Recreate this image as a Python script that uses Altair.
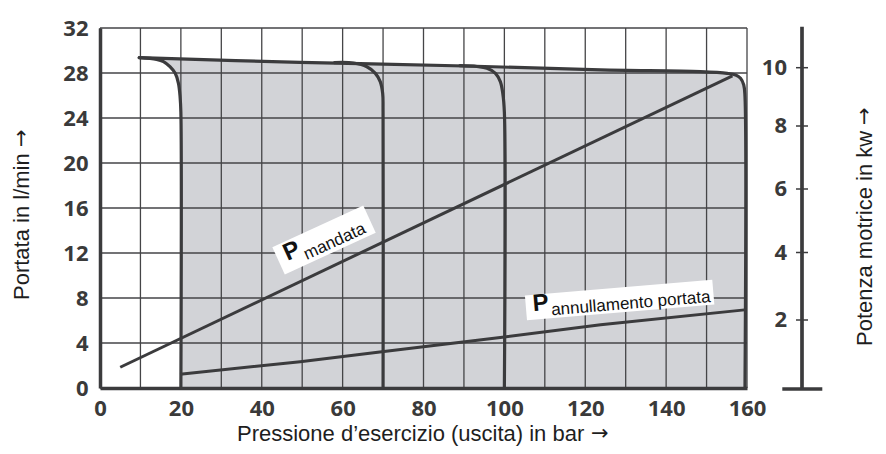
import altair as alt
import pandas as pd

# ---------------- data ----------------
# Flow curves: Portata (l/min) vs Pressione (bar)
c20_x = [9.7, 14.0, 15.7, 17.3, 18.6, 19.4, 19.8, 20.0, 20.0]
c20_y = [29.36, 29.21, 29.01, 28.56, 27.97, 27.08, 25.9, 24.5, 0.0]
c70_x = [58.0, 62.7, 66.0, 68.1, 69.3, 69.9, 70.0, 70.0]
c70_y = [28.93, 28.89, 28.56, 27.97, 27.23, 26.2, 24.5, 0.0]
c100_x = [89.0, 93.2, 95.7, 97.8, 99.0, 99.6, 100.0, 100.0]
c100_y = [28.65, 28.58, 28.42, 27.97, 27.23, 26.2, 24.5, 0.0]
cmax_x = [9.7, 49.5, 93.0, 123.8, 148.5, 155.1, 157.2, 158.4, 159.2, 159.5, 159.5]
cmax_y = [29.36, 28.95, 28.6, 28.27, 28.12, 27.97, 27.82, 27.53, 26.93, 25.9, 0.0]

# Power lines: Potenza motrice (kW) vs Pressione (bar)
pm_x = [5.0, 156.4]
pm_kw = [0.63, 9.72]
pa_x = [19.8, 49.5, 69.7, 99.5, 123.8, 159.4]
pa_kw = [0.43, 0.79, 1.08, 1.50, 1.86, 2.30]

# Axes / grid
x_grid = list(range(0, 161, 10))
y_grid = list(range(0, 33, 4))
kw_ticks = [2, 4, 6, 8, 10]
kw_axis_domain = [0, 2, 4, 6, 8, 10]

# Titles
x_title = "Pressione d’esercizio (uscita) in bar"
y_title = "Portata in l/min"
y2_title = "Potenza motrice in kw"
arrow = "→"

# Label anchors (bar, l/min)
lbl_mandata = {"x": 55.4, "y": 13.16}
lbl_annull = {"x": 128.5, "y": 7.82}

# ---------------- tables ----------------
rows = []
for name, xs_, ys_ in [("c20", c20_x, c20_y), ("c70", c70_x, c70_y),
                       ("c100", c100_x, c100_y), ("cmax", cmax_x, cmax_y)]:
    for i, (a, b) in enumerate(zip(xs_, ys_)):
        rows.append({"curve": name, "i": i, "x": a, "y": b})
curves = pd.DataFrame(rows)

poly_pts = list(zip(c20_x, c20_y))[1:][::-1] + [p for p in zip(cmax_x, cmax_y) if p[0] > 20]
poly = pd.DataFrame({"i": range(len(poly_pts)),
                     "x": [p[0] for p in poly_pts], "y": [p[1] for p in poly_pts]})

prow = []
for name, xs_, ks in [("mandata", pm_x, pm_kw), ("annull", pa_x, pa_kw)]:
    for i, (a, b) in enumerate(zip(xs_, ks)):
        prow.append({"line": name, "i": i, "x": a, "kw": b})
power = pd.DataFrame(prow)

W, H = 647, 360
LINE = "#3b3b3d"
GRID = "#454547"
FILL = "#d2d3d7"
LBL = "#3a3a3a"
TXT = "#1e1e1e"
TICKFONT = "Open Sans"
TITLEFONT = "Liberation Sans"
ARROWFONT = "DejaVu Sans"
TFS = 22

xs = alt.Scale(domain=[0, 160], nice=False, zero=False)
ys = alt.Scale(domain=[0, 32], nice=False, zero=False)
kws = alt.Scale(domain=kw_axis_domain, range=[361, 292, 224.5, 161, 98, 39.7], nice=False, zero=False)

x_axis = alt.Axis(values=x_grid, labelExpr="datum.value % 20 == 0 ? datum.label : ''",
                  grid=False, ticks=False, domainWidth=3.5, domainColor=LINE,
                  labelFont=TICKFONT, labelFontWeight="bold", labelFontSize=22, labelColor=LBL,
                  labelPadding=10, labelFlush=False, labelOverlap=False, title=None, zindex=1)
y_axis = alt.Axis(values=y_grid, grid=False, ticks=False, domainWidth=3.5, domainColor=LINE,
                  labelFont=TICKFONT, labelFontWeight="bold", labelFontSize=22, labelColor=LBL,
                  labelPadding=12, labelFlush=False, labelOverlap=False, labelBaseline="middle",
                  title=None, zindex=1)

fill = alt.Chart(poly).mark_line(fill=FILL, stroke=None, strokeWidth=0, interpolate="catmull-rom").encode(
    x=alt.X("x:Q", scale=xs, axis=x_axis),
    y=alt.Y("y:Q", scale=ys, axis=y_axis),
    order="i:O")

vgrid = alt.Chart(pd.DataFrame({"x": x_grid})).mark_rule(color=GRID, strokeWidth=1.3).encode(
    x=alt.X("x:Q", scale=xs))
hgrid = alt.Chart(pd.DataFrame({"y": y_grid})).mark_rule(color=GRID, strokeWidth=1.3).encode(
    y=alt.Y("y:Q", scale=ys))

curve_lines = alt.Chart(curves).mark_line(color=LINE, strokeWidth=3.2, interpolate="catmull-rom",
                                          strokeCap="round", strokeJoin="round").encode(
    x=alt.X("x:Q", scale=xs), y=alt.Y("y:Q", scale=ys), detail="curve:N", order="i:O")

left = alt.layer(fill, vgrid, hgrid, curve_lines)

# ---- power lines and right (kW) axis ----
plines = alt.Chart(power).mark_line(color=LINE, strokeWidth=3.0, strokeCap="butt").encode(
    x=alt.X("x:Q", scale=xs), y=alt.Y("kw:Q", scale=kws, axis=None), detail="line:N", order="i:O")

kwdf = pd.DataFrame({"kw": kw_ticks})
one = kwdf.head(1)
r_line = alt.Chart(one).mark_rule(color=LINE, strokeWidth=3.7).encode(
    x=alt.value(702), y=alt.value(-1.3), y2=alt.value(361))
r_cap = alt.Chart(one).mark_rule(color=LINE, strokeWidth=3.3).encode(
    x=alt.value(682.3), x2=alt.value(722.3), y=alt.value(361))
r_ticks = alt.Chart(kwdf).mark_rule(color=LINE, strokeWidth=1.5).encode(
    x=alt.value(696), x2=alt.value(708), y=alt.Y("kw:Q", scale=kws, axis=None))
r_labels = alt.Chart(kwdf).mark_text(align="right", baseline="middle", font=TICKFONT,
                                     fontWeight="bold", fontSize=22, color=LBL).encode(
    x=alt.value(687), y=alt.Y("kw:Q", scale=kws, axis=None), text="kw:Q")

right = alt.layer(plines, r_line, r_cap, r_ticks, r_labels)


# ---- axis titles (text + separate arrow glyph) ----
def title(text, x, y, angle, length_hint):
    t = alt.Chart(one).mark_text(text=text, angle=angle, align="left", baseline="middle",
                                 font=TITLEFONT, fontSize=TFS, color=TXT).encode(
        x=alt.value(x), y=alt.value(y))
    a = alt.Chart(one).mark_text(text=arrow, angle=angle, align="left", baseline="middle",
                                 dx=length_hint, font=ARROWFONT, fontSize=TFS - 1, color=TXT).encode(
        x=alt.value(x), y=alt.value(y))
    return [t, a]


titles = alt.layer(
    *title(x_title, 137, 406, 0, 354),
    *title(y_title, -78, 272, 270, 153),
    *title(y2_title, 765, 318, 270, 221),
)


# ---- labels with white boxes ----
def label(anchor, angle, box_w, box_h, sub, p_dx, p_dy, sub_dx, sub_dy):
    df = pd.DataFrame([anchor])
    half = box_h / box_w
    shape = f"M-1,-{half:.4f}L1,-{half:.4f}L1,{half:.4f}L-1,{half:.4f}Z"
    enc = dict(x=alt.X("x:Q", scale=xs), y=alt.Y("y:Q", scale=ys, axis=None))
    box = alt.Chart(df).mark_point(shape=shape, size=box_w ** 2, angle=angle, filled=True,
                                   fill="white", opacity=1, strokeWidth=0).encode(**enc)
    p = alt.Chart(df).mark_text(text="P", angle=angle, align="left", baseline="alphabetic",
                                dx=p_dx, dy=p_dy, font=TITLEFONT, fontWeight="bold", fontSize=24,
                                color="#111111").encode(**enc)
    s = alt.Chart(df).mark_text(text=sub, angle=angle, align="left", baseline="alphabetic",
                                dx=sub_dx, dy=sub_dy, font=TITLEFONT, fontSize=17,
                                color="#111111").encode(**enc)
    return [box, p, s]


labels = alt.layer(*label(lbl_mandata, 335.4, 100, 30, "mandata", -42, 4, -24, 11),
                   *label(lbl_annull, 355.2, 188, 25, "annullamento portata", -87, 4, -69, 9.5))

chart = alt.layer(left, right, labels, titles).resolve_scale(y="independent").properties(
    width=W, height=H,
    autosize=alt.AutoSizeParams(type="none"),
    padding={"left": 92, "top": 20, "right": 131, "bottom": 58},
).configure_view(strokeWidth=0)

chart.save("out.html", embed_options={"renderer": "svg", "actions": False})
